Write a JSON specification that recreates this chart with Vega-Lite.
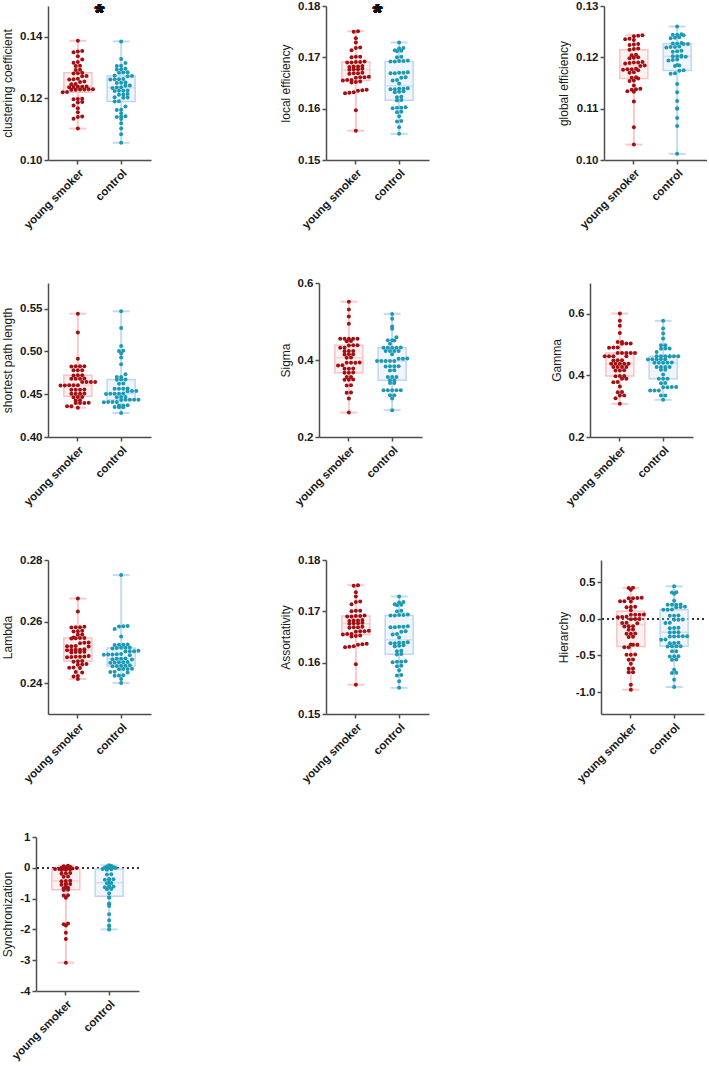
{
"$schema": "https://vega.github.io/schema/vega-lite/v6.json",
"padding": {"left": 0, "top": 0, "right": 0, "bottom": 0},
"spacing": 46,
"config": {
  "font": "Liberation Sans",
  "view": {"stroke": null},
  "concat": {"spacing": 128},
  "axis": {"grid": false, "domainColor": "#4d4d4d", "domainWidth": 1.5, "tickColor": "#4d4d4d", "tickWidth": 1.5, "tickSize": 4, "labelFontWeight": "bold", "labelFontSize": 11.5, "labelColor": "#1a1a1a", "titleFontWeight": "normal", "titleFontSize": 12, "titleColor": "#1a1a1a", "labelPadding": 2, "titlePadding": 5, "labelOverlap": false},
  "axisX": {"labelAngle": -45, "labelFontSize": 11.5, "labelPadding": 3}
},
"datasets": {
"cc": [
{"g":"young smoker","v":0.1387},{"g":"young smoker","v":0.1354},{"g":"young smoker","v":0.1352},{"g":"young smoker","v":0.1350},{"g":"young smoker","v":0.1337},{"g":"young smoker","v":0.1326},{"g":"young smoker","v":0.1318},{"g":"young smoker","v":0.1316},{"g":"young smoker","v":0.1306},{"g":"young smoker","v":0.1305},{"g":"young smoker","v":0.1293},{"g":"young smoker","v":0.1292},{"g":"young smoker","v":0.1283},{"g":"young smoker","v":0.1282},{"g":"young smoker","v":0.1281},{"g":"young smoker","v":0.1273},{"g":"young smoker","v":0.1272},{"g":"young smoker","v":0.1264},{"g":"young smoker","v":0.1262},{"g":"young smoker","v":0.1261},{"g":"young smoker","v":0.1255},{"g":"young smoker","v":0.1253},{"g":"young smoker","v":0.1247},{"g":"young smoker","v":0.1246},{"g":"young smoker","v":0.1239},{"g":"young smoker","v":0.1238},{"g":"young smoker","v":0.1237},{"g":"young smoker","v":0.1236},{"g":"young smoker","v":0.1238},{"g":"young smoker","v":0.1230},{"g":"young smoker","v":0.1229},{"g":"young smoker","v":0.1228},{"g":"young smoker","v":0.1229},{"g":"young smoker","v":0.1230},{"g":"young smoker","v":0.1228},{"g":"young smoker","v":0.1221},{"g":"young smoker","v":0.1220},{"g":"young smoker","v":0.1199},{"g":"young smoker","v":0.1198},{"g":"young smoker","v":0.1197},{"g":"young smoker","v":0.1188},{"g":"young smoker","v":0.1187},{"g":"young smoker","v":0.1177},{"g":"young smoker","v":0.1168},{"g":"young smoker","v":0.1155},{"g":"young smoker","v":0.1141},{"g":"young smoker","v":0.1140},{"g":"young smoker","v":0.1134},{"g":"young smoker","v":0.1102},
{"g":"control","v":0.1385},{"g":"control","v":0.1328},{"g":"control","v":0.1315},{"g":"control","v":0.1306},{"g":"control","v":0.1305},{"g":"control","v":0.1296},{"g":"control","v":0.1295},{"g":"control","v":0.1294},{"g":"control","v":0.1285},{"g":"control","v":0.1284},{"g":"control","v":0.1283},{"g":"control","v":0.1274},{"g":"control","v":0.1273},{"g":"control","v":0.1272},{"g":"control","v":0.1263},{"g":"control","v":0.1262},{"g":"control","v":0.1261},{"g":"control","v":0.1262},{"g":"control","v":0.1252},{"g":"control","v":0.1251},{"g":"control","v":0.1250},{"g":"control","v":0.1242},{"g":"control","v":0.1241},{"g":"control","v":0.1235},{"g":"control","v":0.1234},{"g":"control","v":0.1236},{"g":"control","v":0.1226},{"g":"control","v":0.1225},{"g":"control","v":0.1224},{"g":"control","v":0.1225},{"g":"control","v":0.1214},{"g":"control","v":0.1213},{"g":"control","v":0.1212},{"g":"control","v":0.1204},{"g":"control","v":0.1203},{"g":"control","v":0.1202},{"g":"control","v":0.1191},{"g":"control","v":0.1190},{"g":"control","v":0.1174},{"g":"control","v":0.1163},{"g":"control","v":0.1162},{"g":"control","v":0.1152},{"g":"control","v":0.1141},{"g":"control","v":0.1140},{"g":"control","v":0.1142},{"g":"control","v":0.1133},{"g":"control","v":0.1119},{"g":"control","v":0.1102},{"g":"control","v":0.1084},{"g":"control","v":0.1056}
],
"le": [
{"g":"young smoker","v":0.1751},{"g":"young smoker","v":0.1750},{"g":"young smoker","v":0.1737},{"g":"young smoker","v":0.1729},{"g":"young smoker","v":0.1719},{"g":"young smoker","v":0.1718},{"g":"young smoker","v":0.1714},{"g":"young smoker","v":0.1701},{"g":"young smoker","v":0.1700},{"g":"young smoker","v":0.1701},{"g":"young smoker","v":0.1691},{"g":"young smoker","v":0.1690},{"g":"young smoker","v":0.1692},{"g":"young smoker","v":0.1691},{"g":"young smoker","v":0.1690},{"g":"young smoker","v":0.1682},{"g":"young smoker","v":0.1681},{"g":"young smoker","v":0.1683},{"g":"young smoker","v":0.1682},{"g":"young smoker","v":0.1677},{"g":"young smoker","v":0.1676},{"g":"young smoker","v":0.1678},{"g":"young smoker","v":0.1677},{"g":"young smoker","v":0.1669},{"g":"young smoker","v":0.1668},{"g":"young smoker","v":0.1670},{"g":"young smoker","v":0.1669},{"g":"young smoker","v":0.1661},{"g":"young smoker","v":0.1660},{"g":"young smoker","v":0.1662},{"g":"young smoker","v":0.1661},{"g":"young smoker","v":0.1656},{"g":"young smoker","v":0.1655},{"g":"young smoker","v":0.1656},{"g":"young smoker","v":0.1652},{"g":"young smoker","v":0.1651},{"g":"young smoker","v":0.1653},{"g":"young smoker","v":0.1637},{"g":"young smoker","v":0.1636},{"g":"young smoker","v":0.1635},{"g":"young smoker","v":0.1631},{"g":"young smoker","v":0.1630},{"g":"young smoker","v":0.1632},{"g":"young smoker","v":0.1597},{"g":"young smoker","v":0.1557},
{"g":"control","v":0.1729},{"g":"control","v":0.1718},{"g":"control","v":0.1717},{"g":"control","v":0.1713},{"g":"control","v":0.1712},{"g":"control","v":0.1714},{"g":"control","v":0.1701},{"g":"control","v":0.1700},{"g":"control","v":0.1693},{"g":"control","v":0.1692},{"g":"control","v":0.1694},{"g":"control","v":0.1693},{"g":"control","v":0.1692},{"g":"control","v":0.1670},{"g":"control","v":0.1669},{"g":"control","v":0.1671},{"g":"control","v":0.1670},{"g":"control","v":0.1669},{"g":"control","v":0.1661},{"g":"control","v":0.1660},{"g":"control","v":0.1656},{"g":"control","v":0.1655},{"g":"control","v":0.1649},{"g":"control","v":0.1639},{"g":"control","v":0.1638},{"g":"control","v":0.1640},{"g":"control","v":0.1639},{"g":"control","v":0.1638},{"g":"control","v":0.1633},{"g":"control","v":0.1632},{"g":"control","v":0.1634},{"g":"control","v":0.1623},{"g":"control","v":0.1622},{"g":"control","v":0.1617},{"g":"control","v":0.1616},{"g":"control","v":0.1602},{"g":"control","v":0.1601},{"g":"control","v":0.1603},{"g":"control","v":0.1602},{"g":"control","v":0.1594},{"g":"control","v":0.1593},{"g":"control","v":0.1585},{"g":"control","v":0.1576},{"g":"control","v":0.1575},{"g":"control","v":0.1564},{"g":"control","v":0.1551}
],
"ge": [
{"g":"young smoker","v":0.1242},{"g":"young smoker","v":0.1241},{"g":"young smoker","v":0.1243},{"g":"young smoker","v":0.1236},{"g":"young smoker","v":0.1235},{"g":"young smoker","v":0.1234},{"g":"young smoker","v":0.1225},{"g":"young smoker","v":0.1224},{"g":"young smoker","v":0.1226},{"g":"young smoker","v":0.1216},{"g":"young smoker","v":0.1215},{"g":"young smoker","v":0.1217},{"g":"young smoker","v":0.1205},{"g":"young smoker","v":0.1204},{"g":"young smoker","v":0.1199},{"g":"young smoker","v":0.1198},{"g":"young smoker","v":0.1200},{"g":"young smoker","v":0.1190},{"g":"young smoker","v":0.1189},{"g":"young smoker","v":0.1191},{"g":"young smoker","v":0.1190},{"g":"young smoker","v":0.1188},{"g":"young smoker","v":0.1184},{"g":"young smoker","v":0.1183},{"g":"young smoker","v":0.1177},{"g":"young smoker","v":0.1176},{"g":"young smoker","v":0.1178},{"g":"young smoker","v":0.1177},{"g":"young smoker","v":0.1175},{"g":"young smoker","v":0.1171},{"g":"young smoker","v":0.1170},{"g":"young smoker","v":0.1160},{"g":"young smoker","v":0.1159},{"g":"young smoker","v":0.1161},{"g":"young smoker","v":0.1155},{"g":"young smoker","v":0.1154},{"g":"young smoker","v":0.1145},{"g":"young smoker","v":0.1138},{"g":"young smoker","v":0.1137},{"g":"young smoker","v":0.1139},{"g":"young smoker","v":0.1134},{"g":"young smoker","v":0.1133},{"g":"young smoker","v":0.1114},{"g":"young smoker","v":0.1064},{"g":"young smoker","v":0.1030},
{"g":"control","v":0.1260},{"g":"control","v":0.1244},{"g":"control","v":0.1243},{"g":"control","v":0.1245},{"g":"control","v":0.1244},{"g":"control","v":0.1238},{"g":"control","v":0.1237},{"g":"control","v":0.1239},{"g":"control","v":0.1227},{"g":"control","v":0.1226},{"g":"control","v":0.1228},{"g":"control","v":0.1227},{"g":"control","v":0.1226},{"g":"control","v":0.1220},{"g":"control","v":0.1219},{"g":"control","v":0.1221},{"g":"control","v":0.1220},{"g":"control","v":0.1212},{"g":"control","v":0.1211},{"g":"control","v":0.1213},{"g":"control","v":0.1202},{"g":"control","v":0.1201},{"g":"control","v":0.1203},{"g":"control","v":0.1202},{"g":"control","v":0.1201},{"g":"control","v":0.1195},{"g":"control","v":0.1194},{"g":"control","v":0.1196},{"g":"control","v":0.1184},{"g":"control","v":0.1183},{"g":"control","v":0.1185},{"g":"control","v":0.1175},{"g":"control","v":0.1174},{"g":"control","v":0.1169},{"g":"control","v":0.1168},{"g":"control","v":0.1148},{"g":"control","v":0.1132},{"g":"control","v":0.1115},{"g":"control","v":0.1101},{"g":"control","v":0.1100},{"g":"control","v":0.1082},{"g":"control","v":0.1066},{"g":"control","v":0.1012}
],
"spl": [
{"g":"young smoker","v":0.5441},{"g":"young smoker","v":0.5222},{"g":"young smoker","v":0.4914},{"g":"young smoker","v":0.4827},{"g":"young smoker","v":0.4826},{"g":"young smoker","v":0.4828},{"g":"young smoker","v":0.4825},{"g":"young smoker","v":0.4780},{"g":"young smoker","v":0.4779},{"g":"young smoker","v":0.4781},{"g":"young smoker","v":0.4721},{"g":"young smoker","v":0.4720},{"g":"young smoker","v":0.4722},{"g":"young smoker","v":0.4682},{"g":"young smoker","v":0.4681},{"g":"young smoker","v":0.4683},{"g":"young smoker","v":0.4682},{"g":"young smoker","v":0.4643},{"g":"young smoker","v":0.4642},{"g":"young smoker","v":0.4644},{"g":"young smoker","v":0.4643},{"g":"young smoker","v":0.4604},{"g":"young smoker","v":0.4603},{"g":"young smoker","v":0.4605},{"g":"young smoker","v":0.4604},{"g":"young smoker","v":0.4602},{"g":"young smoker","v":0.4553},{"g":"young smoker","v":0.4552},{"g":"young smoker","v":0.4554},{"g":"young smoker","v":0.4553},{"g":"young smoker","v":0.4506},{"g":"young smoker","v":0.4505},{"g":"young smoker","v":0.4507},{"g":"young smoker","v":0.4506},{"g":"young smoker","v":0.4467},{"g":"young smoker","v":0.4466},{"g":"young smoker","v":0.4468},{"g":"young smoker","v":0.4429},{"g":"young smoker","v":0.4428},{"g":"young smoker","v":0.4398},{"g":"young smoker","v":0.4397},{"g":"young smoker","v":0.4399},{"g":"young smoker","v":0.4398},{"g":"young smoker","v":0.4359},{"g":"young smoker","v":0.4358},{"g":"young smoker","v":0.4343},
{"g":"control","v":0.5469},{"g":"control","v":0.5273},{"g":"control","v":0.5063},{"g":"control","v":0.5008},{"g":"control","v":0.5006},{"g":"control","v":0.4977},{"g":"control","v":0.4930},{"g":"control","v":0.4851},{"g":"control","v":0.4733},{"g":"control","v":0.4702},{"g":"control","v":0.4701},{"g":"control","v":0.4671},{"g":"control","v":0.4670},{"g":"control","v":0.4672},{"g":"control","v":0.4624},{"g":"control","v":0.4623},{"g":"control","v":0.4565},{"g":"control","v":0.4564},{"g":"control","v":0.4566},{"g":"control","v":0.4565},{"g":"control","v":0.4537},{"g":"control","v":0.4536},{"g":"control","v":0.4538},{"g":"control","v":0.4506},{"g":"control","v":0.4505},{"g":"control","v":0.4507},{"g":"control","v":0.4506},{"g":"control","v":0.4504},{"g":"control","v":0.4467},{"g":"control","v":0.4466},{"g":"control","v":0.4468},{"g":"control","v":0.4435},{"g":"control","v":0.4434},{"g":"control","v":0.4436},{"g":"control","v":0.4435},{"g":"control","v":0.4433},{"g":"control","v":0.4408},{"g":"control","v":0.4407},{"g":"control","v":0.4409},{"g":"control","v":0.4408},{"g":"control","v":0.4369},{"g":"control","v":0.4368},{"g":"control","v":0.4370},{"g":"control","v":0.4349},{"g":"control","v":0.4348},{"g":"control","v":0.4350},{"g":"control","v":0.4280}
],
"sigma": [
{"g":"young smoker","v":0.5516},{"g":"young smoker","v":0.5309},{"g":"young smoker","v":0.5130},{"g":"young smoker","v":0.4940},{"g":"young smoker","v":0.4553},{"g":"young smoker","v":0.4552},{"g":"young smoker","v":0.4554},{"g":"young smoker","v":0.4551},{"g":"young smoker","v":0.4555},{"g":"young smoker","v":0.4493},{"g":"young smoker","v":0.4490},{"g":"young smoker","v":0.4380},{"g":"young smoker","v":0.4382},{"g":"young smoker","v":0.4378},{"g":"young smoker","v":0.4320},{"g":"young smoker","v":0.4318},{"g":"young smoker","v":0.4233},{"g":"young smoker","v":0.4230},{"g":"young smoker","v":0.4235},{"g":"young smoker","v":0.4147},{"g":"young smoker","v":0.4145},{"g":"young smoker","v":0.4150},{"g":"young smoker","v":0.4060},{"g":"young smoker","v":0.4062},{"g":"young smoker","v":0.3931},{"g":"young smoker","v":0.3930},{"g":"young smoker","v":0.3933},{"g":"young smoker","v":0.3928},{"g":"young smoker","v":0.3862},{"g":"young smoker","v":0.3860},{"g":"young smoker","v":0.3775},{"g":"young smoker","v":0.3773},{"g":"young smoker","v":0.3777},{"g":"young smoker","v":0.3672},{"g":"young smoker","v":0.3670},{"g":"young smoker","v":0.3675},{"g":"young smoker","v":0.3559},{"g":"young smoker","v":0.3557},{"g":"young smoker","v":0.3490},{"g":"young smoker","v":0.3492},{"g":"young smoker","v":0.3488},{"g":"young smoker","v":0.3343},{"g":"young smoker","v":0.3340},{"g":"young smoker","v":0.3153},{"g":"young smoker","v":0.3150},{"g":"young smoker","v":0.2998},{"g":"young smoker","v":0.2635},
{"g":"control","v":0.5198},{"g":"control","v":0.5069},{"g":"control","v":0.4870},{"g":"control","v":0.4810},{"g":"control","v":0.4594},{"g":"control","v":0.4510},{"g":"control","v":0.4508},{"g":"control","v":0.4512},{"g":"control","v":0.4422},{"g":"control","v":0.4320},{"g":"control","v":0.4318},{"g":"control","v":0.4322},{"g":"control","v":0.4319},{"g":"control","v":0.4321},{"g":"control","v":0.4233},{"g":"control","v":0.4231},{"g":"control","v":0.4235},{"g":"control","v":0.4232},{"g":"control","v":0.4147},{"g":"control","v":0.4035},{"g":"control","v":0.4033},{"g":"control","v":0.4037},{"g":"control","v":0.3974},{"g":"control","v":0.3972},{"g":"control","v":0.3976},{"g":"control","v":0.3973},{"g":"control","v":0.3975},{"g":"control","v":0.3836},{"g":"control","v":0.3834},{"g":"control","v":0.3838},{"g":"control","v":0.3835},{"g":"control","v":0.3732},{"g":"control","v":0.3730},{"g":"control","v":0.3559},{"g":"control","v":0.3557},{"g":"control","v":0.3561},{"g":"control","v":0.3473},{"g":"control","v":0.3471},{"g":"control","v":0.3404},{"g":"control","v":0.3402},{"g":"control","v":0.3214},{"g":"control","v":0.3212},{"g":"control","v":0.3216},{"g":"control","v":0.3213},{"g":"control","v":0.3215},{"g":"control","v":0.3085},{"g":"control","v":0.3083},{"g":"control","v":0.2998},{"g":"control","v":0.2696}
],
"gamma": [
{"g":"young smoker","v":0.6009},{"g":"young smoker","v":0.5772},{"g":"young smoker","v":0.5609},{"g":"young smoker","v":0.5380},{"g":"young smoker","v":0.5087},{"g":"young smoker","v":0.5085},{"g":"young smoker","v":0.5033},{"g":"young smoker","v":0.5031},{"g":"young smoker","v":0.5035},{"g":"young smoker","v":0.4902},{"g":"young smoker","v":0.4900},{"g":"young smoker","v":0.4904},{"g":"young smoker","v":0.4728},{"g":"young smoker","v":0.4726},{"g":"young smoker","v":0.4730},{"g":"young smoker","v":0.4727},{"g":"young smoker","v":0.4729},{"g":"young smoker","v":0.4620},{"g":"young smoker","v":0.4618},{"g":"young smoker","v":0.4622},{"g":"young smoker","v":0.4621},{"g":"young smoker","v":0.4489},{"g":"young smoker","v":0.4487},{"g":"young smoker","v":0.4491},{"g":"young smoker","v":0.4380},{"g":"young smoker","v":0.4378},{"g":"young smoker","v":0.4382},{"g":"young smoker","v":0.4379},{"g":"young smoker","v":0.4381},{"g":"young smoker","v":0.4272},{"g":"young smoker","v":0.4270},{"g":"young smoker","v":0.4274},{"g":"young smoker","v":0.4271},{"g":"young smoker","v":0.4163},{"g":"young smoker","v":0.4161},{"g":"young smoker","v":0.4165},{"g":"young smoker","v":0.3978},{"g":"young smoker","v":0.3976},{"g":"young smoker","v":0.3980},{"g":"young smoker","v":0.3891},{"g":"young smoker","v":0.3889},{"g":"young smoker","v":0.3783},{"g":"young smoker","v":0.3781},{"g":"young smoker","v":0.3641},{"g":"young smoker","v":0.3457},{"g":"young smoker","v":0.3455},{"g":"young smoker","v":0.3348},{"g":"young smoker","v":0.3346},{"g":"young smoker","v":0.3261},{"g":"young smoker","v":0.3076},
{"g":"control","v":0.5772},{"g":"control","v":0.5522},{"g":"control","v":0.5359},{"g":"control","v":0.5196},{"g":"control","v":0.4978},{"g":"control","v":0.4976},{"g":"control","v":0.4870},{"g":"control","v":0.4868},{"g":"control","v":0.4872},{"g":"control","v":0.4761},{"g":"control","v":0.4620},{"g":"control","v":0.4618},{"g":"control","v":0.4622},{"g":"control","v":0.4619},{"g":"control","v":0.4621},{"g":"control","v":0.4617},{"g":"control","v":0.4623},{"g":"control","v":0.4522},{"g":"control","v":0.4520},{"g":"control","v":0.4524},{"g":"control","v":0.4521},{"g":"control","v":0.4523},{"g":"control","v":0.4413},{"g":"control","v":0.4411},{"g":"control","v":0.4415},{"g":"control","v":0.4412},{"g":"control","v":0.4414},{"g":"control","v":0.4272},{"g":"control","v":0.4270},{"g":"control","v":0.4274},{"g":"control","v":0.4271},{"g":"control","v":0.4185},{"g":"control","v":0.4183},{"g":"control","v":0.4033},{"g":"control","v":0.3891},{"g":"control","v":0.3889},{"g":"control","v":0.3893},{"g":"control","v":0.3750},{"g":"control","v":0.3748},{"g":"control","v":0.3620},{"g":"control","v":0.3618},{"g":"control","v":0.3622},{"g":"control","v":0.3619},{"g":"control","v":0.3511},{"g":"control","v":0.3509},{"g":"control","v":0.3513},{"g":"control","v":0.3348},{"g":"control","v":0.3346},{"g":"control","v":0.3207}
],
"lambda": [
{"g":"young smoker","v":0.2675},{"g":"young smoker","v":0.2633},{"g":"young smoker","v":0.2582},{"g":"young smoker","v":0.2581},{"g":"young smoker","v":0.2583},{"g":"young smoker","v":0.2582},{"g":"young smoker","v":0.2569},{"g":"young smoker","v":0.2568},{"g":"young smoker","v":0.2570},{"g":"young smoker","v":0.2558},{"g":"young smoker","v":0.2557},{"g":"young smoker","v":0.2547},{"g":"young smoker","v":0.2546},{"g":"young smoker","v":0.2548},{"g":"young smoker","v":0.2547},{"g":"young smoker","v":0.2545},{"g":"young smoker","v":0.2531},{"g":"young smoker","v":0.2530},{"g":"young smoker","v":0.2532},{"g":"young smoker","v":0.2520},{"g":"young smoker","v":0.2519},{"g":"young smoker","v":0.2521},{"g":"young smoker","v":0.2520},{"g":"young smoker","v":0.2509},{"g":"young smoker","v":0.2508},{"g":"young smoker","v":0.2510},{"g":"young smoker","v":0.2509},{"g":"young smoker","v":0.2507},{"g":"young smoker","v":0.2501},{"g":"young smoker","v":0.2500},{"g":"young smoker","v":0.2502},{"g":"young smoker","v":0.2501},{"g":"young smoker","v":0.2486},{"g":"young smoker","v":0.2485},{"g":"young smoker","v":0.2487},{"g":"young smoker","v":0.2486},{"g":"young smoker","v":0.2484},{"g":"young smoker","v":0.2488},{"g":"young smoker","v":0.2471},{"g":"young smoker","v":0.2470},{"g":"young smoker","v":0.2472},{"g":"young smoker","v":0.2461},{"g":"young smoker","v":0.2460},{"g":"young smoker","v":0.2462},{"g":"young smoker","v":0.2450},{"g":"young smoker","v":0.2449},{"g":"young smoker","v":0.2451},{"g":"young smoker","v":0.2436},{"g":"young smoker","v":0.2435},{"g":"young smoker","v":0.2423},{"g":"young smoker","v":0.2422},{"g":"young smoker","v":0.2414},
{"g":"control","v":0.2751},{"g":"control","v":0.2585},{"g":"control","v":0.2584},{"g":"control","v":0.2586},{"g":"control","v":0.2576},{"g":"control","v":0.2552},{"g":"control","v":0.2525},{"g":"control","v":0.2524},{"g":"control","v":0.2526},{"g":"control","v":0.2525},{"g":"control","v":0.2515},{"g":"control","v":0.2514},{"g":"control","v":0.2516},{"g":"control","v":0.2515},{"g":"control","v":0.2513},{"g":"control","v":0.2504},{"g":"control","v":0.2503},{"g":"control","v":0.2505},{"g":"control","v":0.2504},{"g":"control","v":0.2493},{"g":"control","v":0.2492},{"g":"control","v":0.2494},{"g":"control","v":0.2493},{"g":"control","v":0.2491},{"g":"control","v":0.2495},{"g":"control","v":0.2479},{"g":"control","v":0.2478},{"g":"control","v":0.2480},{"g":"control","v":0.2479},{"g":"control","v":0.2477},{"g":"control","v":0.2468},{"g":"control","v":0.2467},{"g":"control","v":0.2469},{"g":"control","v":0.2468},{"g":"control","v":0.2466},{"g":"control","v":0.2457},{"g":"control","v":0.2456},{"g":"control","v":0.2458},{"g":"control","v":0.2457},{"g":"control","v":0.2455},{"g":"control","v":0.2446},{"g":"control","v":0.2445},{"g":"control","v":0.2447},{"g":"control","v":0.2446},{"g":"control","v":0.2436},{"g":"control","v":0.2435},{"g":"control","v":0.2437},{"g":"control","v":0.2425},{"g":"control","v":0.2424},{"g":"control","v":0.2426},{"g":"control","v":0.2414},{"g":"control","v":0.2401}
],
"hier": [
{"g":"young smoker","v":0.418},{"g":"young smoker","v":0.420},{"g":"young smoker","v":0.395},{"g":"young smoker","v":0.282},{"g":"young smoker","v":0.280},{"g":"young smoker","v":0.284},{"g":"young smoker","v":0.279},{"g":"young smoker","v":0.236},{"g":"young smoker","v":0.238},{"g":"young smoker","v":0.234},{"g":"young smoker","v":0.159},{"g":"young smoker","v":0.161},{"g":"young smoker","v":0.157},{"g":"young smoker","v":0.114},{"g":"young smoker","v":0.055},{"g":"young smoker","v":0.053},{"g":"young smoker","v":0.057},{"g":"young smoker","v":0.054},{"g":"young smoker","v":0.023},{"g":"young smoker","v":0.021},{"g":"young smoker","v":0.025},{"g":"young smoker","v":-0.005},{"g":"young smoker","v":-0.003},{"g":"young smoker","v":-0.007},{"g":"young smoker","v":-0.059},{"g":"young smoker","v":-0.057},{"g":"young smoker","v":-0.061},{"g":"young smoker","v":-0.105},{"g":"young smoker","v":-0.103},{"g":"young smoker","v":-0.107},{"g":"young smoker","v":-0.150},{"g":"young smoker","v":-0.148},{"g":"young smoker","v":-0.205},{"g":"young smoker","v":-0.203},{"g":"young smoker","v":-0.207},{"g":"young smoker","v":-0.250},{"g":"young smoker","v":-0.248},{"g":"young smoker","v":-0.355},{"g":"young smoker","v":-0.353},{"g":"young smoker","v":-0.357},{"g":"young smoker","v":-0.391},{"g":"young smoker","v":-0.389},{"g":"young smoker","v":-0.491},{"g":"young smoker","v":-0.489},{"g":"young smoker","v":-0.493},{"g":"young smoker","v":-0.559},{"g":"young smoker","v":-0.557},{"g":"young smoker","v":-0.614},{"g":"young smoker","v":-0.682},{"g":"young smoker","v":-0.680},{"g":"young smoker","v":-0.732},{"g":"young smoker","v":-0.730},{"g":"young smoker","v":-0.900},{"g":"young smoker","v":-0.968},
{"g":"control","v":0.441},{"g":"control","v":0.359},{"g":"control","v":0.357},{"g":"control","v":0.341},{"g":"control","v":0.245},{"g":"control","v":0.191},{"g":"control","v":0.189},{"g":"control","v":0.193},{"g":"control","v":0.190},{"g":"control","v":0.159},{"g":"control","v":0.157},{"g":"control","v":0.161},{"g":"control","v":0.123},{"g":"control","v":0.121},{"g":"control","v":0.125},{"g":"control","v":0.041},{"g":"control","v":0.039},{"g":"control","v":0.043},{"g":"control","v":-0.014},{"g":"control","v":-0.012},{"g":"control","v":-0.016},{"g":"control","v":-0.059},{"g":"control","v":-0.057},{"g":"control","v":-0.127},{"g":"control","v":-0.125},{"g":"control","v":-0.129},{"g":"control","v":-0.186},{"g":"control","v":-0.184},{"g":"control","v":-0.188},{"g":"control","v":-0.241},{"g":"control","v":-0.239},{"g":"control","v":-0.243},{"g":"control","v":-0.240},{"g":"control","v":-0.242},{"g":"control","v":-0.286},{"g":"control","v":-0.284},{"g":"control","v":-0.332},{"g":"control","v":-0.330},{"g":"control","v":-0.334},{"g":"control","v":-0.377},{"g":"control","v":-0.375},{"g":"control","v":-0.379},{"g":"control","v":-0.376},{"g":"control","v":-0.445},{"g":"control","v":-0.443},{"g":"control","v":-0.514},{"g":"control","v":-0.512},{"g":"control","v":-0.516},{"g":"control","v":-0.559},{"g":"control","v":-0.557},{"g":"control","v":-0.695},{"g":"control","v":-0.741},{"g":"control","v":-0.739},{"g":"control","v":-0.832},{"g":"control","v":-0.932}
],
"sync": [
{"g":"young smoker","v":0.07},{"g":"young smoker","v":0.05},{"g":"young smoker","v":0.03},{"g":"young smoker","v":0.01},{"g":"young smoker","v":-0.01},{"g":"young smoker","v":-0.02},{"g":"young smoker","v":-0.03},{"g":"young smoker","v":-0.04},{"g":"young smoker","v":-0.05},{"g":"young smoker","v":-0.06},{"g":"young smoker","v":-0.07},{"g":"young smoker","v":-0.02},{"g":"young smoker","v":-0.04},{"g":"young smoker","v":0.00},{"g":"young smoker","v":-0.18},{"g":"young smoker","v":-0.17},{"g":"young smoker","v":-0.19},{"g":"young smoker","v":-0.29},{"g":"young smoker","v":-0.28},{"g":"young smoker","v":-0.43},{"g":"young smoker","v":-0.42},{"g":"young smoker","v":-0.44},{"g":"young smoker","v":-0.54},{"g":"young smoker","v":-0.53},{"g":"young smoker","v":-0.55},{"g":"young smoker","v":-0.52},{"g":"young smoker","v":-0.65},{"g":"young smoker","v":-0.64},{"g":"young smoker","v":-0.66},{"g":"young smoker","v":-0.72},{"g":"young smoker","v":-0.71},{"g":"young smoker","v":-0.90},{"g":"young smoker","v":-0.89},{"g":"young smoker","v":-0.97},{"g":"young smoker","v":-1.81},{"g":"young smoker","v":-1.83},{"g":"young smoker","v":-1.87},{"g":"young smoker","v":-2.11},{"g":"young smoker","v":-2.31},{"g":"young smoker","v":-3.08},
{"g":"control","v":0.08},{"g":"control","v":0.06},{"g":"control","v":0.04},{"g":"control","v":0.02},{"g":"control","v":0.01},{"g":"control","v":-0.01},{"g":"control","v":-0.02},{"g":"control","v":-0.03},{"g":"control","v":-0.04},{"g":"control","v":-0.05},{"g":"control","v":-0.06},{"g":"control","v":0.00},{"g":"control","v":-0.22},{"g":"control","v":-0.21},{"g":"control","v":-0.38},{"g":"control","v":-0.37},{"g":"control","v":-0.39},{"g":"control","v":-0.36},{"g":"control","v":-0.49},{"g":"control","v":-0.48},{"g":"control","v":-0.50},{"g":"control","v":-0.62},{"g":"control","v":-0.61},{"g":"control","v":-0.63},{"g":"control","v":-0.60},{"g":"control","v":-0.70},{"g":"control","v":-0.69},{"g":"control","v":-0.83},{"g":"control","v":-0.97},{"g":"control","v":-0.96},{"g":"control","v":-1.16},{"g":"control","v":-1.18},{"g":"control","v":-1.24},{"g":"control","v":-1.51},{"g":"control","v":-1.70},{"g":"control","v":-1.87},{"g":"control","v":-1.89},{"g":"control","v":-2.00}
]
},
"vconcat": [
{"spacing": 0, "hconcat": [
{"width": 1, "height": 1, "data": {"values": [{}]}, "mark": {"type": "point", "size": 0, "opacity": 0}},
{"hconcat": [
{"width": 103, "height": 154, "data": {"name": "cc"},
 "layer": [
  {"mark": {"type": "boxplot", "extent": "min-max", "size": 28, "ticks": {"size": 17, "color": {"expr": "datum.g === 'control' ? '#c4daf2' : '#f8caca'"}, "thickness": 2}, "box": {"fillOpacity": 0.25, "stroke": {"expr": "datum.g === 'control' ? '#bfd6f1' : '#f6c4c4'"}, "strokeWidth": 1.5}, "rule": {"strokeWidth": 2, "color": {"expr": "datum.g === 'control' ? '#c4daf2' : '#f8caca'"}}, "median": {"thickness": 1.5, "color": {"expr": "datum.g === 'control' ? '#bfd6f1' : '#f6c4c4'"}}},
   "encoding": {"x": {"field": "g", "type": "nominal", "sort": ["young smoker", "control"], "scale": {"paddingInner": 0, "paddingOuter": 0.19}, "axis": {"title": null}},
    "y": {"field": "v", "type": "quantitative", "scale": {"domain": [0.10, 0.15], "nice": false, "zero": false}, "axis": {"title": "clustering coefficient", "values": [0.10, 0.12, 0.14], "format": ".2f"}},
    "color": {"field": "g", "type": "nominal", "scale": {"domain": ["young smoker", "control"], "range": ["#f6c4c4", "#bfd6f1"]}, "legend": null}}},
  {"transform": [{"calculate": "floor(datum.v / 0.0014)", "as": "b"}, {"joinaggregate": [{"op": "count", "as": "n"}], "groupby": ["g", "b"]}, {"window": [{"op": "row_number", "as": "r"}], "groupby": ["g", "b"], "sort": [{"field": "v"}]}, {"calculate": "datum.r - 1 - (datum.n - 1) / 2", "as": "o"}],
   "mark": {"type": "circle", "size": 16, "opacity": 1},
   "encoding": {"x": {"field": "g", "type": "nominal", "sort": ["young smoker", "control"], "axis": {"title": null}},
    "xOffset": {"field": "o", "type": "quantitative", "scale": {"domain": [-5, 5]}},
    "y": {"field": "v", "type": "quantitative"},
    "color": {"field": "g", "type": "nominal", "scale": {"domain": ["young smoker", "control"], "range": ["#a30f12", "#1c9ab5"]}, "legend": null}}},
  {"mark": {"type": "text", "text": "*", "fontSize": 24, "fontWeight": "bold", "baseline": "top", "dy": -4, "color": "#111"},
   "encoding": {"x": {"datum": "young smoker", "type": "nominal", "bandPosition": 1}, "y": {"datum": 0.15, "type": "quantitative"}}}
 ],
 "resolve": {"scale": {"color": "independent"}}},
{"width": 103, "height": 154, "data": {"name": "le"},
 "layer": [
  {"mark": {"type": "boxplot", "extent": "min-max", "size": 28, "ticks": {"size": 17, "color": {"expr": "datum.g === 'control' ? '#c4daf2' : '#f8caca'"}, "thickness": 2}, "box": {"fillOpacity": 0.25, "stroke": {"expr": "datum.g === 'control' ? '#bfd6f1' : '#f6c4c4'"}, "strokeWidth": 1.5}, "rule": {"strokeWidth": 2, "color": {"expr": "datum.g === 'control' ? '#c4daf2' : '#f8caca'"}}, "median": {"thickness": 1.5, "color": {"expr": "datum.g === 'control' ? '#bfd6f1' : '#f6c4c4'"}}},
   "encoding": {"x": {"field": "g", "type": "nominal", "sort": ["young smoker", "control"], "scale": {"paddingInner": 0, "paddingOuter": 0.19}, "axis": {"title": null}},
    "y": {"field": "v", "type": "quantitative", "scale": {"domain": [0.15, 0.18], "nice": false, "zero": false}, "axis": {"title": "local efficiency", "values": [0.15, 0.16, 0.17, 0.18], "format": ".2f"}},
    "color": {"field": "g", "type": "nominal", "scale": {"domain": ["young smoker", "control"], "range": ["#f6c4c4", "#bfd6f1"]}, "legend": null}}},
  {"transform": [{"calculate": "floor(datum.v / 0.00084)", "as": "b"}, {"joinaggregate": [{"op": "count", "as": "n"}], "groupby": ["g", "b"]}, {"window": [{"op": "row_number", "as": "r"}], "groupby": ["g", "b"], "sort": [{"field": "v"}]}, {"calculate": "datum.r - 1 - (datum.n - 1) / 2", "as": "o"}],
   "mark": {"type": "circle", "size": 16, "opacity": 1},
   "encoding": {"x": {"field": "g", "type": "nominal", "sort": ["young smoker", "control"], "axis": {"title": null}},
    "xOffset": {"field": "o", "type": "quantitative", "scale": {"domain": [-5, 5]}},
    "y": {"field": "v", "type": "quantitative"},
    "color": {"field": "g", "type": "nominal", "scale": {"domain": ["young smoker", "control"], "range": ["#a30f12", "#1c9ab5"]}, "legend": null}}},
  {"mark": {"type": "text", "text": "*", "fontSize": 24, "fontWeight": "bold", "baseline": "top", "dy": -4, "color": "#111"},
   "encoding": {"x": {"datum": "young smoker", "type": "nominal", "bandPosition": 1}, "y": {"datum": 0.18, "type": "quantitative"}}}
 ],
 "resolve": {"scale": {"color": "independent"}}},
{"width": 103, "height": 154, "data": {"name": "ge"},
 "layer": [
  {"mark": {"type": "boxplot", "extent": "min-max", "size": 28, "ticks": {"size": 17, "color": {"expr": "datum.g === 'control' ? '#c4daf2' : '#f8caca'"}, "thickness": 2}, "box": {"fillOpacity": 0.25, "stroke": {"expr": "datum.g === 'control' ? '#bfd6f1' : '#f6c4c4'"}, "strokeWidth": 1.5}, "rule": {"strokeWidth": 2, "color": {"expr": "datum.g === 'control' ? '#c4daf2' : '#f8caca'"}}, "median": {"thickness": 1.5, "color": {"expr": "datum.g === 'control' ? '#bfd6f1' : '#f6c4c4'"}}},
   "encoding": {"x": {"field": "g", "type": "nominal", "sort": ["young smoker", "control"], "scale": {"paddingInner": 0, "paddingOuter": 0.19}, "axis": {"title": null}},
    "y": {"field": "v", "type": "quantitative", "scale": {"domain": [0.10, 0.13], "nice": false, "zero": false}, "axis": {"title": "global efficiency", "values": [0.10, 0.11, 0.12, 0.13], "format": ".2f"}},
    "color": {"field": "g", "type": "nominal", "scale": {"domain": ["young smoker", "control"], "range": ["#f6c4c4", "#bfd6f1"]}, "legend": null}}},
  {"transform": [{"calculate": "floor(datum.v / 0.00084)", "as": "b"}, {"joinaggregate": [{"op": "count", "as": "n"}], "groupby": ["g", "b"]}, {"window": [{"op": "row_number", "as": "r"}], "groupby": ["g", "b"], "sort": [{"field": "v"}]}, {"calculate": "datum.r - 1 - (datum.n - 1) / 2", "as": "o"}],
   "mark": {"type": "circle", "size": 16, "opacity": 1},
   "encoding": {"x": {"field": "g", "type": "nominal", "sort": ["young smoker", "control"], "axis": {"title": null}},
    "xOffset": {"field": "o", "type": "quantitative", "scale": {"domain": [-5, 5]}},
    "y": {"field": "v", "type": "quantitative"},
    "color": {"field": "g", "type": "nominal", "scale": {"domain": ["young smoker", "control"], "range": ["#a30f12", "#1c9ab5"]}, "legend": null}}}
 ],
 "resolve": {"scale": {"color": "independent"}}}
]}]},
{"spacing": 0, "hconcat": [
{"width": 1, "height": 1, "data": {"values": [{}]}, "mark": {"type": "point", "size": 0, "opacity": 0}},
{"hconcat": [
{"width": 103, "height": 154, "data": {"name": "spl"},
 "layer": [
  {"mark": {"type": "boxplot", "extent": "min-max", "size": 28, "ticks": {"size": 17, "color": {"expr": "datum.g === 'control' ? '#c4daf2' : '#f8caca'"}, "thickness": 2}, "box": {"fillOpacity": 0.25, "stroke": {"expr": "datum.g === 'control' ? '#bfd6f1' : '#f6c4c4'"}, "strokeWidth": 1.5}, "rule": {"strokeWidth": 2, "color": {"expr": "datum.g === 'control' ? '#c4daf2' : '#f8caca'"}}, "median": {"thickness": 1.5, "color": {"expr": "datum.g === 'control' ? '#bfd6f1' : '#f6c4c4'"}}},
   "encoding": {"x": {"field": "g", "type": "nominal", "sort": ["young smoker", "control"], "scale": {"paddingInner": 0, "paddingOuter": 0.19}, "axis": {"title": null}},
    "y": {"field": "v", "type": "quantitative", "scale": {"domain": [0.40, 0.58], "nice": false, "zero": false}, "axis": {"title": "shortest path length", "values": [0.40, 0.45, 0.50, 0.55], "format": ".2f"}},
    "color": {"field": "g", "type": "nominal", "scale": {"domain": ["young smoker", "control"], "range": ["#f6c4c4", "#bfd6f1"]}, "legend": null}}},
  {"transform": [{"calculate": "floor(datum.v / 0.005)", "as": "b"}, {"joinaggregate": [{"op": "count", "as": "n"}], "groupby": ["g", "b"]}, {"window": [{"op": "row_number", "as": "r"}], "groupby": ["g", "b"], "sort": [{"field": "v"}]}, {"calculate": "datum.r - 1 - (datum.n - 1) / 2", "as": "o"}],
   "mark": {"type": "circle", "size": 16, "opacity": 1},
   "encoding": {"x": {"field": "g", "type": "nominal", "sort": ["young smoker", "control"], "axis": {"title": null}},
    "xOffset": {"field": "o", "type": "quantitative", "scale": {"domain": [-5, 5]}},
    "y": {"field": "v", "type": "quantitative"},
    "color": {"field": "g", "type": "nominal", "scale": {"domain": ["young smoker", "control"], "range": ["#a30f12", "#1c9ab5"]}, "legend": null}}}
 ],
 "resolve": {"scale": {"color": "independent"}}},
{"width": 103, "height": 154, "data": {"name": "sigma"},
 "layer": [
  {"mark": {"type": "boxplot", "extent": "min-max", "size": 28, "ticks": {"size": 17, "color": {"expr": "datum.g === 'control' ? '#c4daf2' : '#f8caca'"}, "thickness": 2}, "box": {"fillOpacity": 0.25, "stroke": {"expr": "datum.g === 'control' ? '#bfd6f1' : '#f6c4c4'"}, "strokeWidth": 1.5}, "rule": {"strokeWidth": 2, "color": {"expr": "datum.g === 'control' ? '#c4daf2' : '#f8caca'"}}, "median": {"thickness": 1.5, "color": {"expr": "datum.g === 'control' ? '#bfd6f1' : '#f6c4c4'"}}},
   "encoding": {"x": {"field": "g", "type": "nominal", "sort": ["young smoker", "control"], "scale": {"paddingInner": 0, "paddingOuter": 0.19}, "axis": {"title": null}},
    "y": {"field": "v", "type": "quantitative", "scale": {"domain": [0.2, 0.6], "nice": false, "zero": false}, "axis": {"title": "Sigma", "values": [0.2, 0.3, 0.4, 0.5, 0.6], "format": ".1f"}},
    "color": {"field": "g", "type": "nominal", "scale": {"domain": ["young smoker", "control"], "range": ["#f6c4c4", "#bfd6f1"]}, "legend": null}}},
  {"transform": [{"calculate": "floor(datum.v / 0.011)", "as": "b"}, {"joinaggregate": [{"op": "count", "as": "n"}], "groupby": ["g", "b"]}, {"window": [{"op": "row_number", "as": "r"}], "groupby": ["g", "b"], "sort": [{"field": "v"}]}, {"calculate": "datum.r - 1 - (datum.n - 1) / 2", "as": "o"}],
   "mark": {"type": "circle", "size": 16, "opacity": 1},
   "encoding": {"x": {"field": "g", "type": "nominal", "sort": ["young smoker", "control"], "axis": {"title": null}},
    "xOffset": {"field": "o", "type": "quantitative", "scale": {"domain": [-5, 5]}},
    "y": {"field": "v", "type": "quantitative"},
    "color": {"field": "g", "type": "nominal", "scale": {"domain": ["young smoker", "control"], "range": ["#a30f12", "#1c9ab5"]}, "legend": null}}}
 ],
 "resolve": {"scale": {"color": "independent"}}},
{"width": 103, "height": 154, "data": {"name": "gamma"},
 "layer": [
  {"mark": {"type": "boxplot", "extent": "min-max", "size": 28, "ticks": {"size": 17, "color": {"expr": "datum.g === 'control' ? '#c4daf2' : '#f8caca'"}, "thickness": 2}, "box": {"fillOpacity": 0.25, "stroke": {"expr": "datum.g === 'control' ? '#bfd6f1' : '#f6c4c4'"}, "strokeWidth": 1.5}, "rule": {"strokeWidth": 2, "color": {"expr": "datum.g === 'control' ? '#c4daf2' : '#f8caca'"}}, "median": {"thickness": 1.5, "color": {"expr": "datum.g === 'control' ? '#bfd6f1' : '#f6c4c4'"}}},
   "encoding": {"x": {"field": "g", "type": "nominal", "sort": ["young smoker", "control"], "scale": {"paddingInner": 0, "paddingOuter": 0.19}, "axis": {"title": null}},
    "y": {"field": "v", "type": "quantitative", "scale": {"domain": [0.2, 0.7], "nice": false, "zero": false}, "axis": {"title": "Gamma", "values": [0.2, 0.4, 0.6], "format": ".1f"}},
    "color": {"field": "g", "type": "nominal", "scale": {"domain": ["young smoker", "control"], "range": ["#f6c4c4", "#bfd6f1"]}, "legend": null}}},
  {"transform": [{"calculate": "floor(datum.v / 0.014)", "as": "b"}, {"joinaggregate": [{"op": "count", "as": "n"}], "groupby": ["g", "b"]}, {"window": [{"op": "row_number", "as": "r"}], "groupby": ["g", "b"], "sort": [{"field": "v"}]}, {"calculate": "datum.r - 1 - (datum.n - 1) / 2", "as": "o"}],
   "mark": {"type": "circle", "size": 16, "opacity": 1},
   "encoding": {"x": {"field": "g", "type": "nominal", "sort": ["young smoker", "control"], "axis": {"title": null}},
    "xOffset": {"field": "o", "type": "quantitative", "scale": {"domain": [-5, 5]}},
    "y": {"field": "v", "type": "quantitative"},
    "color": {"field": "g", "type": "nominal", "scale": {"domain": ["young smoker", "control"], "range": ["#a30f12", "#1c9ab5"]}, "legend": null}}}
 ],
 "resolve": {"scale": {"color": "independent"}}}
]}]},
{"spacing": 0, "hconcat": [
{"width": 1, "height": 1, "data": {"values": [{}]}, "mark": {"type": "point", "size": 0, "opacity": 0}},
{"hconcat": [
{"width": 103, "height": 154, "data": {"name": "lambda"},
 "layer": [
  {"mark": {"type": "boxplot", "extent": "min-max", "size": 28, "ticks": {"size": 17, "color": {"expr": "datum.g === 'control' ? '#c4daf2' : '#f8caca'"}, "thickness": 2}, "box": {"fillOpacity": 0.25, "stroke": {"expr": "datum.g === 'control' ? '#bfd6f1' : '#f6c4c4'"}, "strokeWidth": 1.5}, "rule": {"strokeWidth": 2, "color": {"expr": "datum.g === 'control' ? '#c4daf2' : '#f8caca'"}}, "median": {"thickness": 1.5, "color": {"expr": "datum.g === 'control' ? '#bfd6f1' : '#f6c4c4'"}}},
   "encoding": {"x": {"field": "g", "type": "nominal", "sort": ["young smoker", "control"], "scale": {"paddingInner": 0, "paddingOuter": 0.19}, "axis": {"title": null}},
    "y": {"field": "v", "type": "quantitative", "scale": {"domain": [0.23, 0.28], "nice": false, "zero": false}, "axis": {"title": "Lambda", "values": [0.24, 0.26, 0.28], "format": ".2f"}},
    "color": {"field": "g", "type": "nominal", "scale": {"domain": ["young smoker", "control"], "range": ["#f6c4c4", "#bfd6f1"]}, "legend": null}}},
  {"transform": [{"calculate": "floor(datum.v / 0.0014)", "as": "b"}, {"joinaggregate": [{"op": "count", "as": "n"}], "groupby": ["g", "b"]}, {"window": [{"op": "row_number", "as": "r"}], "groupby": ["g", "b"], "sort": [{"field": "v"}]}, {"calculate": "datum.r - 1 - (datum.n - 1) / 2", "as": "o"}],
   "mark": {"type": "circle", "size": 16, "opacity": 1},
   "encoding": {"x": {"field": "g", "type": "nominal", "sort": ["young smoker", "control"], "axis": {"title": null}},
    "xOffset": {"field": "o", "type": "quantitative", "scale": {"domain": [-5, 5]}},
    "y": {"field": "v", "type": "quantitative"},
    "color": {"field": "g", "type": "nominal", "scale": {"domain": ["young smoker", "control"], "range": ["#a30f12", "#1c9ab5"]}, "legend": null}}}
 ],
 "resolve": {"scale": {"color": "independent"}}},
{"width": 103, "height": 154, "data": {"name": "le"},
 "layer": [
  {"mark": {"type": "boxplot", "extent": "min-max", "size": 28, "ticks": {"size": 17, "color": {"expr": "datum.g === 'control' ? '#c4daf2' : '#f8caca'"}, "thickness": 2}, "box": {"fillOpacity": 0.25, "stroke": {"expr": "datum.g === 'control' ? '#bfd6f1' : '#f6c4c4'"}, "strokeWidth": 1.5}, "rule": {"strokeWidth": 2, "color": {"expr": "datum.g === 'control' ? '#c4daf2' : '#f8caca'"}}, "median": {"thickness": 1.5, "color": {"expr": "datum.g === 'control' ? '#bfd6f1' : '#f6c4c4'"}}},
   "encoding": {"x": {"field": "g", "type": "nominal", "sort": ["young smoker", "control"], "scale": {"paddingInner": 0, "paddingOuter": 0.19}, "axis": {"title": null}},
    "y": {"field": "v", "type": "quantitative", "scale": {"domain": [0.15, 0.18], "nice": false, "zero": false}, "axis": {"title": "Assortativity", "values": [0.15, 0.16, 0.17, 0.18], "format": ".2f"}},
    "color": {"field": "g", "type": "nominal", "scale": {"domain": ["young smoker", "control"], "range": ["#f6c4c4", "#bfd6f1"]}, "legend": null}}},
  {"transform": [{"calculate": "floor(datum.v / 0.00084)", "as": "b"}, {"joinaggregate": [{"op": "count", "as": "n"}], "groupby": ["g", "b"]}, {"window": [{"op": "row_number", "as": "r"}], "groupby": ["g", "b"], "sort": [{"field": "v"}]}, {"calculate": "datum.r - 1 - (datum.n - 1) / 2", "as": "o"}],
   "mark": {"type": "circle", "size": 16, "opacity": 1},
   "encoding": {"x": {"field": "g", "type": "nominal", "sort": ["young smoker", "control"], "axis": {"title": null}},
    "xOffset": {"field": "o", "type": "quantitative", "scale": {"domain": [-5, 5]}},
    "y": {"field": "v", "type": "quantitative"},
    "color": {"field": "g", "type": "nominal", "scale": {"domain": ["young smoker", "control"], "range": ["#a30f12", "#1c9ab5"]}, "legend": null}}}
 ],
 "resolve": {"scale": {"color": "independent"}}},
{"width": 103, "height": 154, "data": {"name": "hier"},
 "layer": [
  {"mark": {"type": "rule", "strokeDash": [2, 3], "color": "#333", "strokeWidth": 1.3},
   "encoding": {"y": {"datum": 0, "type": "quantitative", "scale": {"domain": [-1.3, 0.8], "nice": false, "zero": false}, "axis": {"title": "Hierarchy", "values": [-1.0, -0.5, 0.0, 0.5], "labelOverlap": false, "labelExpr": "replace(format(datum.value, '.1f'), '\u2212', '-')"}}}},
  {"mark": {"type": "boxplot", "extent": "min-max", "size": 28, "ticks": {"size": 17, "color": {"expr": "datum.g === 'control' ? '#c4daf2' : '#f8caca'"}, "thickness": 2}, "box": {"fillOpacity": 0.25, "stroke": {"expr": "datum.g === 'control' ? '#bfd6f1' : '#f6c4c4'"}, "strokeWidth": 1.5}, "rule": {"strokeWidth": 2, "color": {"expr": "datum.g === 'control' ? '#c4daf2' : '#f8caca'"}}, "median": {"thickness": 1.5, "color": {"expr": "datum.g === 'control' ? '#bfd6f1' : '#f6c4c4'"}}},
   "encoding": {"x": {"field": "g", "type": "nominal", "sort": ["young smoker", "control"], "scale": {"paddingInner": 0, "paddingOuter": 0.19}, "axis": {"title": null}},
    "y": {"field": "v", "type": "quantitative", "scale": {"domain": [-1.3, 0.8], "nice": false, "zero": false}, "axis": {"title": "Hierarchy", "values": [-1.0, -0.5, 0.0, 0.5], "labelOverlap": false, "labelExpr": "replace(format(datum.value, '.1f'), '\u2212', '-')"}},
    "color": {"field": "g", "type": "nominal", "scale": {"domain": ["young smoker", "control"], "range": ["#f6c4c4", "#bfd6f1"]}, "legend": null}}},
  {"transform": [{"calculate": "floor(datum.v / 0.059)", "as": "b"}, {"joinaggregate": [{"op": "count", "as": "n"}], "groupby": ["g", "b"]}, {"window": [{"op": "row_number", "as": "r"}], "groupby": ["g", "b"], "sort": [{"field": "v"}]}, {"calculate": "datum.r - 1 - (datum.n - 1) / 2", "as": "o"}],
   "mark": {"type": "circle", "size": 16, "opacity": 1},
   "encoding": {"x": {"field": "g", "type": "nominal", "sort": ["young smoker", "control"], "axis": {"title": null}},
    "xOffset": {"field": "o", "type": "quantitative", "scale": {"domain": [-5, 5]}},
    "y": {"field": "v", "type": "quantitative"},
    "color": {"field": "g", "type": "nominal", "scale": {"domain": ["young smoker", "control"], "range": ["#a30f12", "#1c9ab5"]}, "legend": null}}}
 ],
 "resolve": {"scale": {"color": "independent"}}}
]}]},
{"spacing": 0, "hconcat": [
{"width": 1, "height": 1, "data": {"values": [{}]}, "mark": {"type": "point", "size": 0, "opacity": 0}},
{"hconcat": [
{"width": 103, "height": 154, "data": {"name": "sync"},
 "layer": [
  {"mark": {"type": "rule", "strokeDash": [2, 3], "color": "#333", "strokeWidth": 1.3},
   "encoding": {"y": {"datum": 0, "type": "quantitative", "scale": {"domain": [-4, 1], "nice": false, "zero": false}, "axis": {"title": "Synchronization", "values": [-4, -3, -2, -1, 0, 1], "tickCount": 6, "labelOverlap": false, "labelExpr": "replace(format(datum.value, 'd'), '\u2212', '-')"}}}},
  {"mark": {"type": "boxplot", "extent": "min-max", "size": 28, "ticks": {"size": 17, "color": {"expr": "datum.g === 'control' ? '#c4daf2' : '#f8caca'"}, "thickness": 2}, "box": {"fillOpacity": 0.25, "stroke": {"expr": "datum.g === 'control' ? '#bfd6f1' : '#f6c4c4'"}, "strokeWidth": 1.5}, "rule": {"strokeWidth": 2, "color": {"expr": "datum.g === 'control' ? '#c4daf2' : '#f8caca'"}}, "median": {"thickness": 1.5, "color": {"expr": "datum.g === 'control' ? '#bfd6f1' : '#f6c4c4'"}}},
   "encoding": {"x": {"field": "g", "type": "nominal", "sort": ["young smoker", "control"], "scale": {"paddingInner": 0, "paddingOuter": 0.19}, "axis": {"title": null}},
    "y": {"field": "v", "type": "quantitative", "scale": {"domain": [-4, 1], "nice": false, "zero": false}, "axis": {"title": "Synchronization", "values": [-4, -3, -2, -1, 0, 1], "tickCount": 6, "labelOverlap": false, "labelExpr": "replace(format(datum.value, 'd'), '\u2212', '-')"}},
    "color": {"field": "g", "type": "nominal", "scale": {"domain": ["young smoker", "control"], "range": ["#f6c4c4", "#bfd6f1"]}, "legend": null}}},
  {"transform": [{"calculate": "floor(datum.v / 0.04)", "as": "b"}, {"joinaggregate": [{"op": "count", "as": "n"}], "groupby": ["g", "b"]}, {"window": [{"op": "row_number", "as": "r"}], "groupby": ["g", "b"], "sort": [{"field": "v"}]}, {"calculate": "datum.r - 1 - (datum.n - 1) / 2", "as": "o"}],
   "mark": {"type": "circle", "size": 16, "opacity": 1},
   "encoding": {"x": {"field": "g", "type": "nominal", "sort": ["young smoker", "control"], "axis": {"title": null}},
    "xOffset": {"field": "o", "type": "quantitative", "scale": {"domain": [-5, 5]}},
    "y": {"field": "v", "type": "quantitative"},
    "color": {"field": "g", "type": "nominal", "scale": {"domain": ["young smoker", "control"], "range": ["#a30f12", "#1c9ab5"]}, "legend": null}}}
 ],
 "resolve": {"scale": {"color": "independent"}}}
]}]}
]
}
